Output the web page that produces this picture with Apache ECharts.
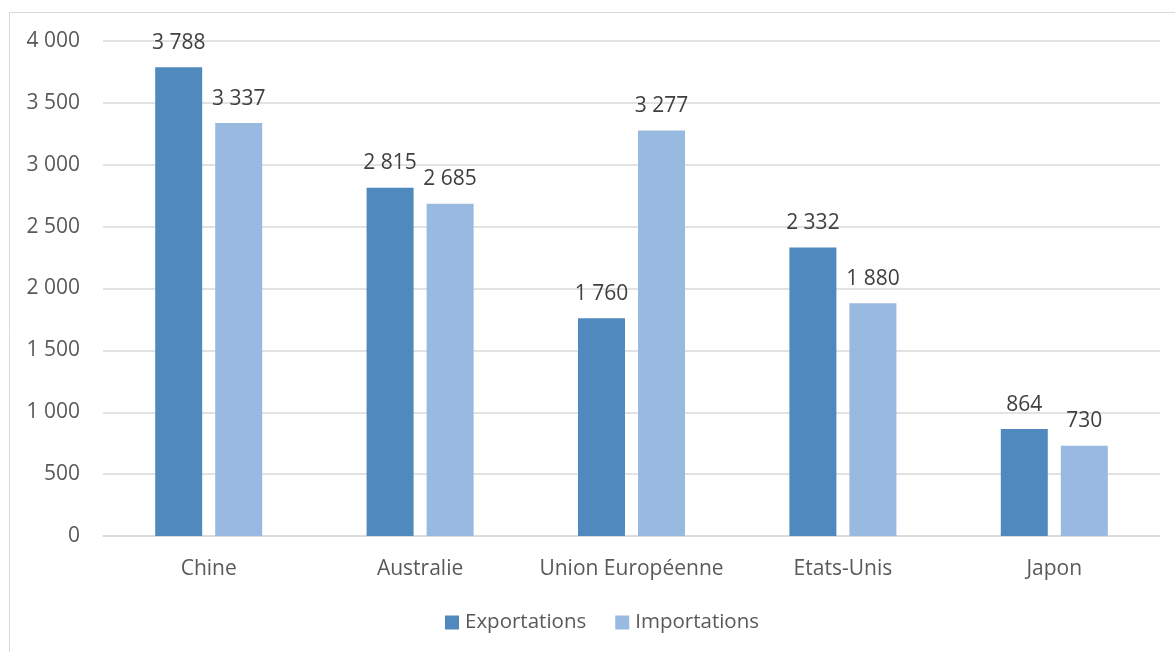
<!DOCTYPE html>
<html><head><meta charset="utf-8">
<script src="https://cdn.jsdelivr.net/npm/echarts@6/dist/echarts.min.js"></script>
<style>html,body{margin:0;padding:0;background:#fff}#c{width:1175px;height:652px}</style>
</head><body><div id="c"></div>
<script>
const categories = ['Chine','Australie','Union Européenne','Etats-Unis','Japon'];
const exportations = [3788, 2815, 1760, 2332, 864];
const importations = [3337, 2685, 3277, 1880, 730];
const yTicks = [0,500,1000,1500,2000,2500,3000,3500,4000];

const fmt = v => String(v).replace(/\B(?=(\d{3})+(?!\d))/g, ' ');
const FONT = 'Open Sans';
const FS = 21;
const chart = echarts.init(document.getElementById('c'));
chart.setOption({
  animation:false,
  textStyle:{fontFamily:FONT},
  graphic:[{type:'rect',shape:{x:9.5,y:12.5,width:1300,height:800},style:{fill:'none',stroke:'#d9d9d9',lineWidth:1},silent:true}],
  grid:{left:103,right:15,top:41,bottom:116,containLabel:false},
  legend:{bottom:14,left:440,itemWidth:14,itemHeight:14,itemGap:29,
    textStyle:{color:'#595959',fontSize:20.5,fontFamily:FONT,padding:[0,0,0,1]},
    data:[{name:'Exportations',icon:'rect'},{name:'Importations',icon:'rect'}]},
  xAxis:{type:'category',data:categories,
    axisLine:{lineStyle:{color:'#d9d9d9',width:1.5}},axisTick:{show:false},
    axisLabel:{color:'#595959',fontSize:FS,margin:23,interval:0,fontFamily:FONT}},
  yAxis:{type:'value',min:yTicks[0],max:yTicks[yTicks.length-1],interval:500,
    axisLine:{show:false},axisTick:{show:false},
    splitLine:{lineStyle:{color:'#d9d9d9',width:1.5}},
    axisLabel:{color:'#595959',fontSize:FS,margin:23,formatter:fmt,fontFamily:FONT}},
  series:[
    {name:'Exportations',type:'bar',data:exportations,barWidth:47,barGap:'27.7%',
     itemStyle:{color:'#4f89bd'},
     label:{show:true,position:'top',distance:14,color:'#404040',fontSize:FS,formatter:p=>fmt(p.value),fontFamily:FONT}},
    {name:'Importations',type:'bar',data:importations,barWidth:47,
     itemStyle:{color:'#98b9e0'},
     label:{show:true,position:'top',distance:14,color:'#404040',fontSize:FS,formatter:p=>fmt(p.value),fontFamily:FONT}}
  ]
});
</script></body></html>
